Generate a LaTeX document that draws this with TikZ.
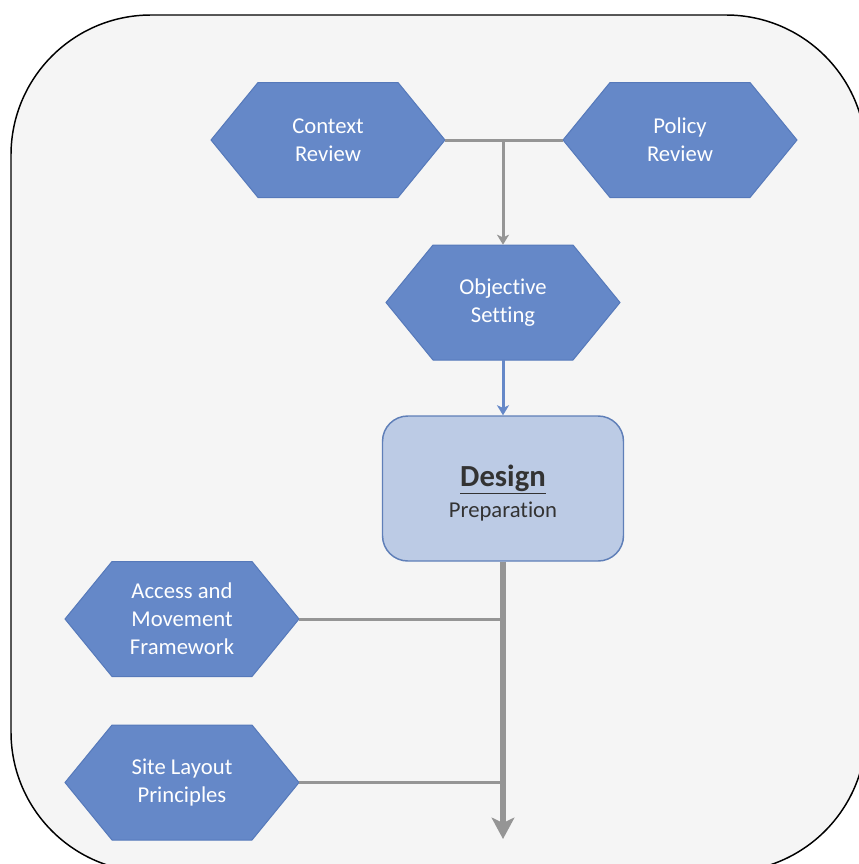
\documentclass[tikz,border=0pt]{standalone}
\usepackage{fontspec}
\setmainfont{Carlito}[Ligatures=NoCommon]
\usetikzlibrary{arrows.meta,calc}
\definecolor{hexblue}{HTML}{6588C8}
\definecolor{hexedge}{HTML}{5679BA}
\definecolor{desfill}{HTML}{BCCBE5}
\definecolor{desedge}{HTML}{5F7FB8}
\definecolor{lgray}{HTML}{959595}
\definecolor{bggray}{HTML}{F5F5F5}
\definecolor{dtext}{HTML}{333333}
\tikzset{
  hexshape/.style={fill=hexblue, draw=hexedge, line width=0.75pt},
  hexbox/.style={rectangle, inner sep=0pt, minimum width=175.5pt, minimum height=86.25pt,
    align=center, text=white, font=\fontsize{17}{21}\selectfont},
  desbox/.style={rectangle, rounded corners=19pt, fill=desfill, draw=desedge, line width=1.1pt,
    minimum width=180.75pt, minimum height=108.75pt, align=center, text=dtext, inner sep=0pt},
  gline/.style={draw=lgray, line width=2.25pt},
  trunk/.style={draw=lgray, line width=4.5pt},
  bline/.style={draw=hexblue, line width=2.25pt},
}
\newcommand{\hexnode}[4]{%
  \path[hexshape] (#2,#3) ++(-117,0) -- ++(47,-57.5) -- ++(140,0) -- ++(47,57.5)
    -- ++(-47,57.5) -- ++(-140,0) -- cycle;
  \node[hexbox] (#1) at (#2,#3) {#4};
}
\begin{document}
\begin{tikzpicture}[x=0.75pt,y=-0.75pt]
\useasboundingbox (0,0) rectangle (859,864);
\draw[fill=bggray, draw=black, line width=1.1pt, rounded corners=105pt] (11,15) rectangle (866,872);

\hexnode{ctx}{328}{140}{Context\\Review}
\hexnode{pol}{680}{140}{Policy\\Review}
\hexnode{obj}{503}{302.5}{Objective\\Setting}
\hexnode{acc}{182}{619}{Access and\\Movement\\Framework}
\hexnode{site}{182}{782.5}{Site Layout\\Principles}

\node[desbox] (des) at (503,488.5) {\rule{0pt}{23pt}{\fontsize{23}{26}\selectfont\bfseries\underline{Design}}\\[5pt]{\fontsize{17}{21}\selectfont Preparation}};

\coordinate (j1) at (ctx.east -| obj.north);
\coordinate (tipend) at (503,839);

\draw[gline] (ctx.east) -- (pol.west);
\draw[gline, -{Stealth[length=7.5pt, width=9pt, inset=2pt]}] (j1) -- (obj.north);
\draw[bline, -{Stealth[length=7.5pt, width=9pt, inset=2pt]}] (obj.south) -- (des.north);
\draw[gline] (acc.east) -- (acc.east -| des.south);
\draw[gline] (site.east) -- (site.east -| des.south);
\draw[trunk, -{Stealth[length=16pt, width=17pt, inset=4pt]}] (des.south) -- (tipend);
\end{tikzpicture}
\end{document}
